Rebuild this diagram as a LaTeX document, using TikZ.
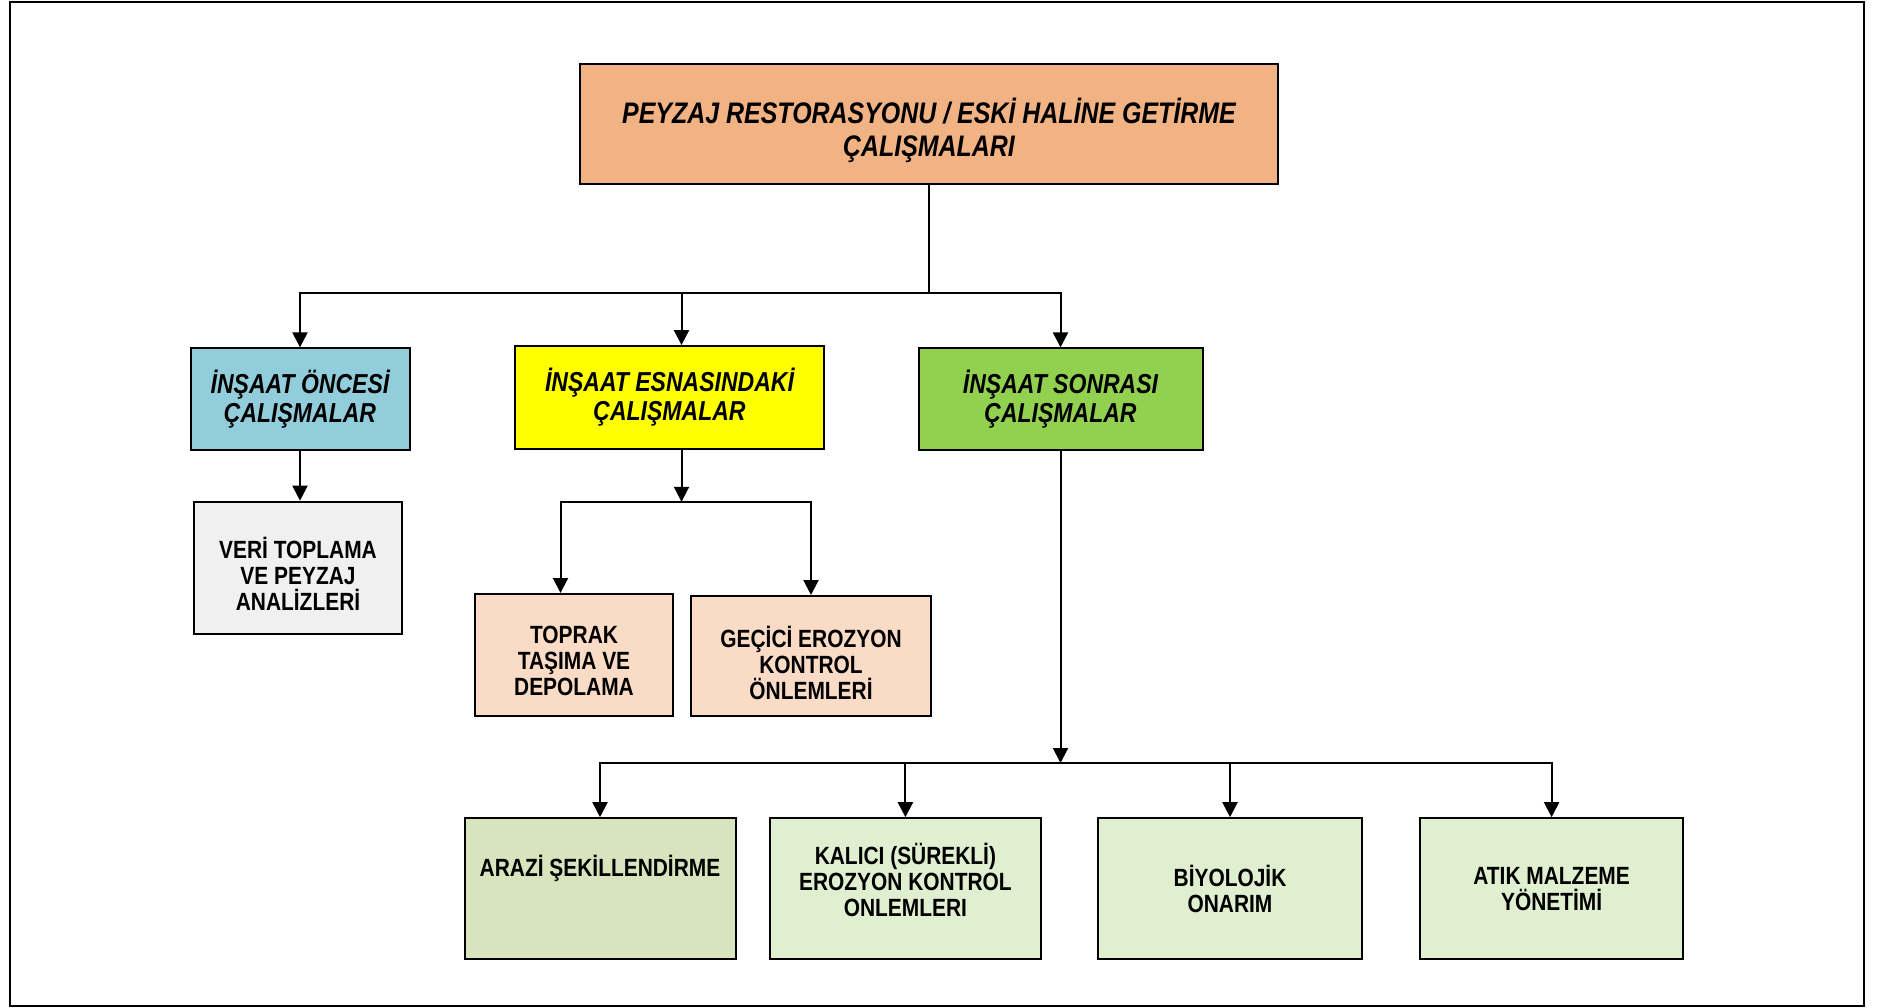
\documentclass[tikz,border=0pt]{standalone}
\usepackage{fontspec}
\usetikzlibrary{arrows.meta}
\newfontfamily\narrow[FakeStretch=0.84]{Liberation Sans}

\definecolor{cTop}{RGB}{241,179,131}
\definecolor{cPre}{RGB}{146,205,220}
\definecolor{cDur}{RGB}{255,255,0}
\definecolor{cPost}{RGB}{146,208,80}
\definecolor{cData}{RGB}{240,240,240}
\definecolor{cPeach}{RGB}{250,219,197}
\definecolor{cLand}{RGB}{215,228,189}
\definecolor{cLeaf}{RGB}{223,239,207}

\tikzset{
  box/.style={draw=black, line width=2pt, inner sep=0pt, align=center},
  toptext/.style={font=\narrow\bfseries\itshape\fontsize{29.7}{33.5}\selectfont, align=center},
  midtext/.style={font=\narrow\bfseries\itshape\fontsize{27.4}{29}\selectfont, align=center},
  lowtext/.style={font=\narrow\bfseries\fontsize{24.9}{26}\selectfont, align=center},
  link/.style={line width=2pt, draw=black},
  arrowlink/.style={link, -{Triangle[width=15pt,length=15pt]}},
}

\begin{document}
\begin{tikzpicture}[x=1pt, y=-1pt]
\useasboundingbox (0,0) rectangle (1878,1008);
\fill[white] (0,0) rectangle (1878,1008);

% outer frame
\draw[line width=2.5pt] (10,2) rectangle (1864,1006);

% main heading
\node[box, fill=cTop, minimum width=698pt, minimum height=120pt,
  label={[toptext, yshift=-6pt]center:PEYZAJ RESTORASYONU / ESKİ HALİNE GETİRME\\ÇALIŞMALARI}]
  (top) at (929,124.5) {};

% construction phases
\node[box, fill=cPre, midtext, minimum width=219pt, minimum height=102pt]
  (pre) at (300,399.4) {İNŞAAT ÖNCESİ\\ÇALIŞMALAR};
\node[box, fill=cDur, midtext, minimum width=309pt, minimum height=103pt]
  (dur) at (669.5,397.6) {İNŞAAT ESNASINDAKİ\\ÇALIŞMALAR};
\node[box, fill=cPost, midtext, minimum width=284pt, minimum height=102pt]
  (post) at (1060.5,399.4) {İNŞAAT SONRASI\\ÇALIŞMALAR};

% pre-construction
\node[box, fill=cData, minimum width=208pt, minimum height=132pt,
  label={[lowtext, yshift=-6.6pt]center:VERİ TOPLAMA\\VE PEYZAJ\\ANALİZLERİ}]
  (data) at (298,567.7) {};

% during construction
\node[box, fill=cPeach, minimum width=197.5pt, minimum height=122pt,
  label={[lowtext, yshift=-5.5pt]center:TOPRAK\\TAŞIMA VE\\DEPOLAMA}]
  (soil) at (574,655) {};
\node[box, fill=cPeach, minimum width=240pt, minimum height=120pt,
  label={[lowtext, yshift=-7pt]center:GEÇİCİ EROZYON\\KONTROL\\ÖNLEMLERİ}]
  (temp) at (811,656) {};

% post-construction
\node[box, fill=cLand, minimum width=271pt, minimum height=141pt,
  label={[lowtext, yshift=20.7pt]center:ARAZİ ŞEKİLLENDİRME}]
  (land) at (600,888.7) {};
\node[box, fill=cLeaf, minimum width=271pt, minimum height=141pt,
  label={[lowtext, yshift=9pt]center:KALICI (SÜREKLİ)\\EROZYON KONTROL\\ONLEMLERI}]
  (perm) at (905.4,888.7) {};
\node[box, fill=cLeaf, lowtext, minimum width=263.5pt, minimum height=141pt]
  (bio) at (1230,888.7) {BİYOLOJİK\\ONARIM};
\node[box, fill=cLeaf, lowtext, minimum width=262.3pt, minimum height=141pt]
  (waste) at (1551.6,888.7) {ATIK MALZEME\\YÖNETİMİ};

% junction points of the connector buses
\coordinate (bus1) at (929,293.4);
\coordinate (bus2) at (681.5,501.8);
\coordinate (bus3) at (1060.5,763);

% heading to phases
\draw[link] (top.south) -- (bus1);
\draw[arrowlink] (bus1) -| (pre.north);
\draw[arrowlink] (bus1) -| ([xshift=12pt]dur.north);
\draw[arrowlink] (bus1) -| (post.north);

% pre-construction branch
\draw[arrowlink] (pre.south) -- (pre.south |- data.north);

% during-construction branch
\draw[arrowlink] ([xshift=12pt]dur.south) -- (bus2);
\draw[arrowlink] (bus2) -| ([xshift=-13.5pt]soil.north);
\draw[arrowlink] (bus2) -| (temp.north);

% post-construction branch
\draw[arrowlink] (post.south) -- (bus3);
\draw[arrowlink] (bus3) -| (land.north);
\draw[arrowlink] (bus3) -| (perm.north);
\draw[arrowlink] (bus3) -| (bio.north);
\draw[arrowlink] (bus3) -| (waste.north);
\end{tikzpicture}
\end{document}
